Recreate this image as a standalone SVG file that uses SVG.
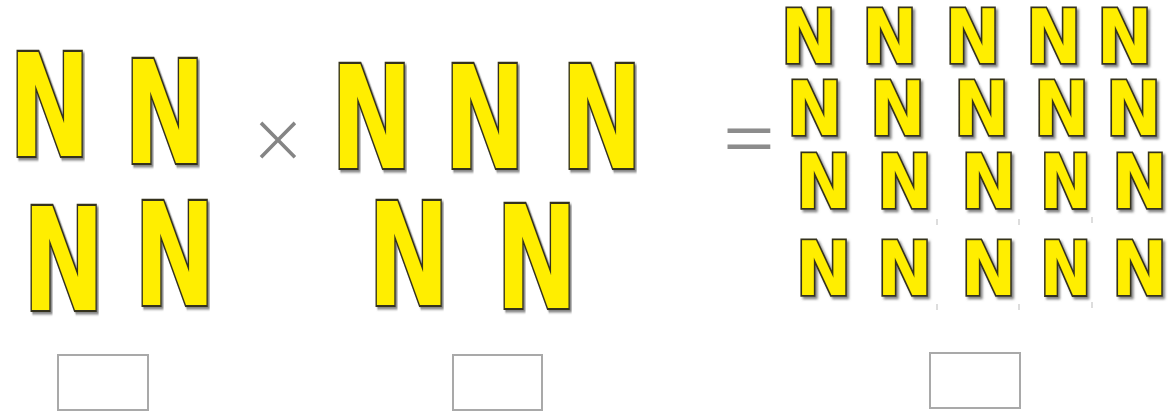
<svg xmlns="http://www.w3.org/2000/svg" width="1176" height="413" viewBox="0 0 1176 413">
<defs>
<filter id="sh" x="-20%" y="-20%" width="150%" height="150%">
<feDropShadow dx="2.5" dy="2.5" stdDeviation="1" flood-color="#666" flood-opacity="0.8"/>
</filter>
</defs>
<style>
.n{font-family:"DejaVu Sans","Liberation Sans",sans-serif;font-weight:bold;fill:#ffee00;stroke:#35321c;stroke-width:3.5;paint-order:stroke;vector-effect:non-scaling-stroke;filter:url(#sh)}
.big{font-size:143px}
.sm{font-size:75px}
.thin{font-family:"Open Sans","Liberation Sans",sans-serif;font-weight:300;fill:#858585}
.op{font-family:"Liberation Sans",Arial,sans-serif;fill:#8c8c8c}
.box{fill:#fff;stroke:#a9a9a9;stroke-width:2}
.tick{stroke:#bbb;stroke-width:1}
</style>
<rect width="1176" height="413" fill="#fff"/>
<g id="left">
<g id="n1"><text class="n big" transform="translate(9,156) scale(0.68,1)">N</text></g>
<g id="n2"><text class="n big" transform="translate(124,163) scale(0.68,1)">N</text></g>
<g id="n3"><text class="n big" transform="translate(23,310) scale(0.68,1)">N</text></g>
<g id="n4"><text class="n big" transform="translate(134,305) scale(0.68,1)">N</text></g>
</g>
<g id="times"><text class="thin" x="278" y="170" font-size="84" text-anchor="middle">×</text></g>
<g id="middle">
<g id="n5"><text class="n big" transform="translate(331,168) scale(0.68,1)">N</text></g>
<g id="n6"><text class="n big" transform="translate(444,168) scale(0.68,1)">N</text></g>
<g id="n7"><text class="n big" transform="translate(561,168) scale(0.68,1)">N</text></g>
<g id="n8"><text class="n big" transform="translate(368,305) scale(0.68,1)">N</text></g>
<g id="n9"><text class="n big" transform="translate(496,308) scale(0.68,1)">N</text></g>
</g>
<g id="equals"><text class="op" font-size="80" text-anchor="middle" transform="translate(749,160) scale(1.1,0.78)">=</text></g>
<g id="grid">
<g id="r1">
<text class="n sm" transform="translate(781,63) scale(0.88,1)">N</text>
<text class="n sm" transform="translate(862,63) scale(0.88,1)">N</text>
<text class="n sm" transform="translate(945,63) scale(0.88,1)">N</text>
<text class="n sm" transform="translate(1026,63) scale(0.88,1)">N</text>
<text class="n sm" transform="translate(1097,63) scale(0.88,1)">N</text>
</g>
<g id="r2">
<text class="n sm" transform="translate(787,135) scale(0.88,1)">N</text>
<text class="n sm" transform="translate(870,135) scale(0.88,1)">N</text>
<text class="n sm" transform="translate(954,135) scale(0.88,1)">N</text>
<text class="n sm" transform="translate(1034,135) scale(0.88,1)">N</text>
<text class="n sm" transform="translate(1106,135) scale(0.88,1)">N</text>
</g>
<g id="r3">
<text class="n sm" transform="translate(796,208) scale(0.88,1)">N</text>
<text class="n sm" transform="translate(877,208) scale(0.88,1)">N</text>
<text class="n sm" transform="translate(961,208) scale(0.88,1)">N</text>
<text class="n sm" transform="translate(1040,208) scale(0.82,1)">N</text>
<text class="n sm" transform="translate(1112,208) scale(0.88,1)">N</text>
</g>
<g id="r4">
<text class="n sm" transform="translate(796,295) scale(0.88,1)">N</text>
<text class="n sm" transform="translate(877,295) scale(0.88,1)">N</text>
<text class="n sm" transform="translate(961,295) scale(0.88,1)">N</text>
<text class="n sm" transform="translate(1040,295) scale(0.82,1)">N</text>
<text class="n sm" transform="translate(1112,295) scale(0.88,1)">N</text>
</g>
<g id="ticks">
<line class="tick" x1="937" y1="219" x2="937" y2="225"/>
<line class="tick" x1="1019" y1="219" x2="1019" y2="225"/>
<line class="tick" x1="1092" y1="217" x2="1092" y2="223"/>
<line class="tick" x1="937" y1="304" x2="937" y2="310"/>
<line class="tick" x1="1019" y1="304" x2="1019" y2="310"/>
<line class="tick" x1="1092" y1="302" x2="1092" y2="308"/>
</g>
</g>
<g id="boxes">
<g id="box1"><rect class="box" x="58" y="355" width="90" height="55"/></g>
<g id="box2"><rect class="box" x="453" y="355" width="89" height="55"/></g>
<g id="box3"><rect class="box" x="930" y="353" width="90" height="55"/></g>
</g>
</svg>
